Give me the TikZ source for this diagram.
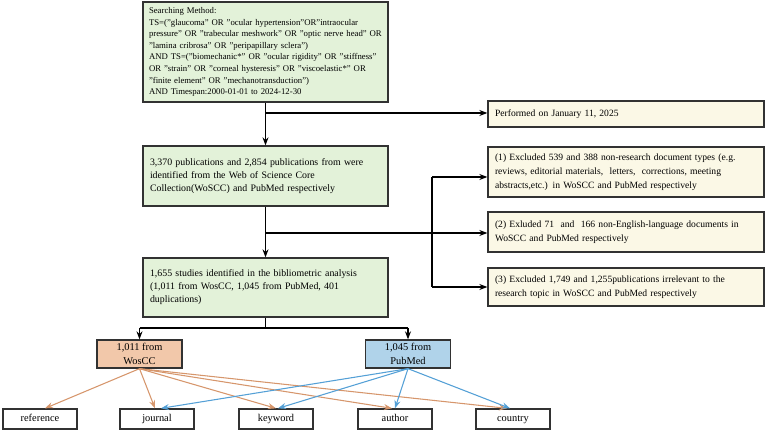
\documentclass[tikz,border=0pt]{standalone}
\usepackage{fontspec}
\setmainfont{Liberation Serif}
\usetikzlibrary{arrows.meta,calc}
\definecolor{boxgreen}{RGB}{227,242,217}
\definecolor{boxcream}{RGB}{251,248,230}
\definecolor{boxpeach}{RGB}{242,200,170}
\definecolor{boxblue}{RGB}{176,211,234}
\definecolor{lineorange}{RGB}{214,150,108}
\definecolor{lineblue}{RGB}{84,160,214}
\definecolor{edge}{RGB}{50,50,50}
\newcommand{\tline}[1]{\mbox{#1}}
\begin{document}
\begin{tikzpicture}[x=0.75pt,y=-0.75pt,
  basebox/.style={draw=edge,line width=1pt,rectangle,inner xsep=5.25pt,inner ysep=2pt},
  greenbox/.style={basebox,fill=boxgreen,minimum width=183.75pt,text width=173.25pt,align=left,font=\fontsize{7.4}{9.7}\selectfont},
  creambox/.style={basebox,fill=boxcream,minimum width=207pt,text width=196.5pt,align=left,font=\fontsize{7.2}{10.4}\selectfont},
  srcbox/.style={basebox,minimum width=63.75pt,minimum height=21pt,align=center,inner xsep=2pt,font=\fontsize{7.8}{10}\selectfont},
  leafbox/.style={basebox,fill=white,minimum width=55.5pt,minimum height=15pt,align=center,inner sep=1pt,text height=5.6pt,text depth=1.7pt,font=\fontsize{7.8}{9}\selectfont},
  flow/.style={draw=black,line width=0.8pt},
  flowarrow/.style={flow,-{Stealth[length=6pt,width=4.5pt]}},
  orangearrow/.style={draw=lineorange,line width=0.8pt,-{Stealth[length=6pt,width=4.5pt]}},
  bluearrow/.style={draw=lineblue,line width=0.8pt,-{Stealth[length=6pt,width=4.5pt]}}
]
\useasboundingbox (0,0) rectangle (767,434);

% main column
\node[greenbox,minimum height=75pt,inner xsep=4.5pt,text width=174.75pt,font=\fontsize{6.55}{8.7}\selectfont] (search) at (265.5,52) {\tline{Searching Method:}\\
\tline{TS=("glaucoma" OR "ocular hypertension"OR"intraocular}\\
\tline{pressure" OR "trabecular meshwork" OR "optic nerve head" OR}\\
\tline{"lamina cribrosa" OR "peripapillary sclera")}\\
\tline{AND TS=("biomechanic*" OR "ocular rigidity" OR "stiffness"}\\
\tline{OR "strain" OR "corneal hysteresis" OR "viscoelastic*" OR}\\
\tline{"finite element" OR "mechanotransduction")}\\
\tline{AND Timespan:2000-01-01 to 2024-12-30}};

\node[greenbox,minimum height=45pt] (found) at (265.5,176) {\tline{3,370 publications and 2,854 publications from were}\\
identified from the Web of Science Core\\
Collection(WoSCC) and PubMed respectively};

\node[greenbox,minimum height=44.25pt] (studies) at (265.5,287.5) {\tline{1,655 studies identified in the bibliometric analysis}\\
(1,011 from WosCC, 1,045 from PubMed, 401\\
duplications)};

% right column
\node[creambox,minimum height=19.5pt] (perf) at (626,114) {Performed on January 11, 2025};
\node[creambox,minimum height=37.5pt] (ex1) at (626,172) {\tline{(1) Excluded 539 and 388 non-research document types (e.g.}\\
\tline{reviews, editorial materials,\ \ letters,\ \ corrections, meeting}\\
abstracts,etc.) in WoSCC and PubMed respectively};
\node[creambox,minimum height=30pt] (ex2) at (626,232) {\tline{(2) Exluded 71\ \ and\ \ 166 non-English-language documents in}\\
WoSCC and PubMed respectively};
\node[creambox,minimum height=28.5pt] (ex3) at (626,287) {\tline{(3) Excluded 1,749 and 1,255publications irrelevant to the}\\
research topic in WoSCC and PubMed respectively};

% sources
\node[srcbox,fill=boxpeach] (wos) at (139.5,354) {1,011 from\\WosCC};
\node[srcbox,fill=boxblue] (pub) at (408,354) {1,045 from\\PubMed};

% leaves
\node[leafbox] (ref) at (40,419) {reference};
\node[leafbox] (jou) at (157,419) {journal};
\node[leafbox] (key) at (276,419) {keyword};
\node[leafbox] (aut) at (395,419) {author};
\node[leafbox] (cou) at (513,419) {country};

% junction coordinates
\coordinate (j1) at (265.5,113);
\coordinate (j2) at (265.5,233);
\coordinate (v1) at (432,177);
\coordinate (v3) at (432,287);
\coordinate (j3) at (265.5,328);
\coordinate (jl) at (139.5,328);
\coordinate (jr) at (408,328);

% flow connectors
\draw[flowarrow] (search.south) -- (found.north);
\draw[flowarrow] (j1) -- (perf.west |- j1);
\draw[flowarrow] (found.south) -- (studies.north);
\draw[flowarrow] (j2) -- (ex2.west |- j2);
\draw[flow] (v1) -- (v3);
\draw[flowarrow] (v1) -- (ex1.west |- v1);
\draw[flowarrow] (v3) -- (ex3.west |- v3);
\draw[flow] (studies.south) -- (j3);
\draw[flow] (jl) -- (jr);
\draw[flowarrow] (jl) -- (wos.north);
\draw[flowarrow] (jr) -- (pub.north);

% colored connectors
\draw[orangearrow] (wos.south) -- ($(ref.north)+(5,0)$);
\draw[orangearrow] (wos.south) -- ($(jou.north)+(-2,0)$);
\draw[orangearrow] (wos.south) -- (key.north);
\draw[orangearrow] (wos.south) -- ($(aut.north)+(-3,0)$);
\draw[orangearrow] (wos.south) -- ($(cou.north)+(-6,0)$);
\draw[bluearrow] (pub.south) -- ($(jou.north)+(4,0)$);
\draw[bluearrow] (pub.south) -- ($(key.north)+(2,0)$);
\draw[bluearrow] (pub.south) -- (aut.north);
\draw[bluearrow] (pub.south) -- ($(cou.north)+(-3,0)$);
\end{tikzpicture}
\end{document}
